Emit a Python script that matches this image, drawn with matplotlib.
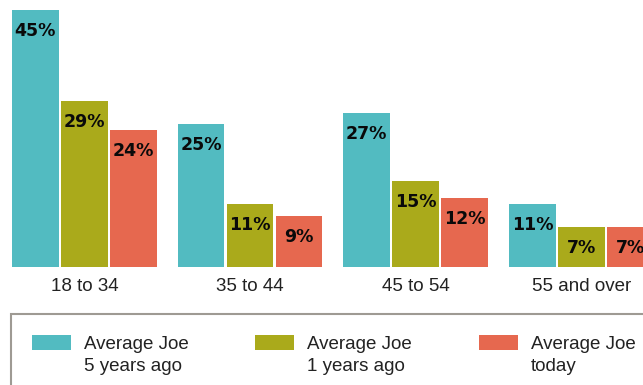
import matplotlib
matplotlib.use("Agg")
import matplotlib.pyplot as plt
from matplotlib.patches import Rectangle
import numpy as np

plt.rcParams['font.family'] = ['Liberation Sans', 'DejaVu Sans']

# Age groups and share per group for each series (percent)
age_groups = ["18 to 34", "35 to 44", "45 to 54", "55 and over"]
series_names = ["Average Joe\n5 years ago", "Average Joe\n1 years ago", "Average Joe\ntoday"]
five_years_ago = [45, 25, 27, 11]
one_year_ago = [29, 11, 15, 7]
today = [24, 9, 12, 7]
series_values = [five_years_ago, one_year_ago, today]
colors = ["#52BBC1", "#AAAA1B", "#E6684F"]

W, H = 643, 385
fig = plt.figure(figsize=(W / 100, H / 100), dpi=100)

# Plot area: baseline 267 px from the top, full figure width
base_px = 267
ax = fig.add_axes([0, (H - base_px) / H, 1, base_px / H])
step_px = 165.67
pitch = 49 / step_px
width = 46.7 / step_px
ax.set_xlim(-84.35 / step_px, (W - 84.35) / step_px)
ax.set_ylim(0, base_px / 5.711)

x = np.arange(len(age_groups))
for j, (vals, col) in enumerate(zip(series_values, colors)):
    xs = x + (j - 1) * pitch
    ax.bar(xs, vals, width=width, color=col, linewidth=0)
    for xi, v in zip(xs, vals):
        ax.annotate(f"{v}%", (xi, v), xytext=(0, -18.7), textcoords="offset points",
                    ha="center", va="baseline", fontsize=12.5, fontweight="bold",
                    family="DejaVu Sans", color="#0A0A0A", annotation_clip=False)

ax.set_xticks(x)
ax.set_xticklabels(age_groups, fontsize=13.5, color="#222222")
ax.tick_params(axis="x", length=0, pad=8)
ax.set_yticks([])
for s in ax.spines.values():
    s.set_visible(False)

# Legend panel below the plot
def fx(px):
    return px / W

def fy(py):
    return (H - py) / H

fig.patches.append(Rectangle((fx(11), fy(420)), fx(700) - fx(11), fy(314) - fy(420),
                             transform=fig.transFigure, facecolor="none",
                             edgecolor="#9E9A93", linewidth=1.5))
patch_left = [32, 255, 479]
for left, name, col in zip(patch_left, series_names, colors):
    fig.patches.append(Rectangle((fx(left), fy(350)), fx(39), 15 / H,
                                 transform=fig.transFigure, facecolor=col,
                                 edgecolor="none"))
    for k, line in enumerate(name.split("\n")):
        fig.text(fx(left + 52), fy(349 + 22 * k), line, fontsize=13.5,
                 color="#222222", ha="left", va="baseline")

fig.savefig("out.png", dpi=100)
